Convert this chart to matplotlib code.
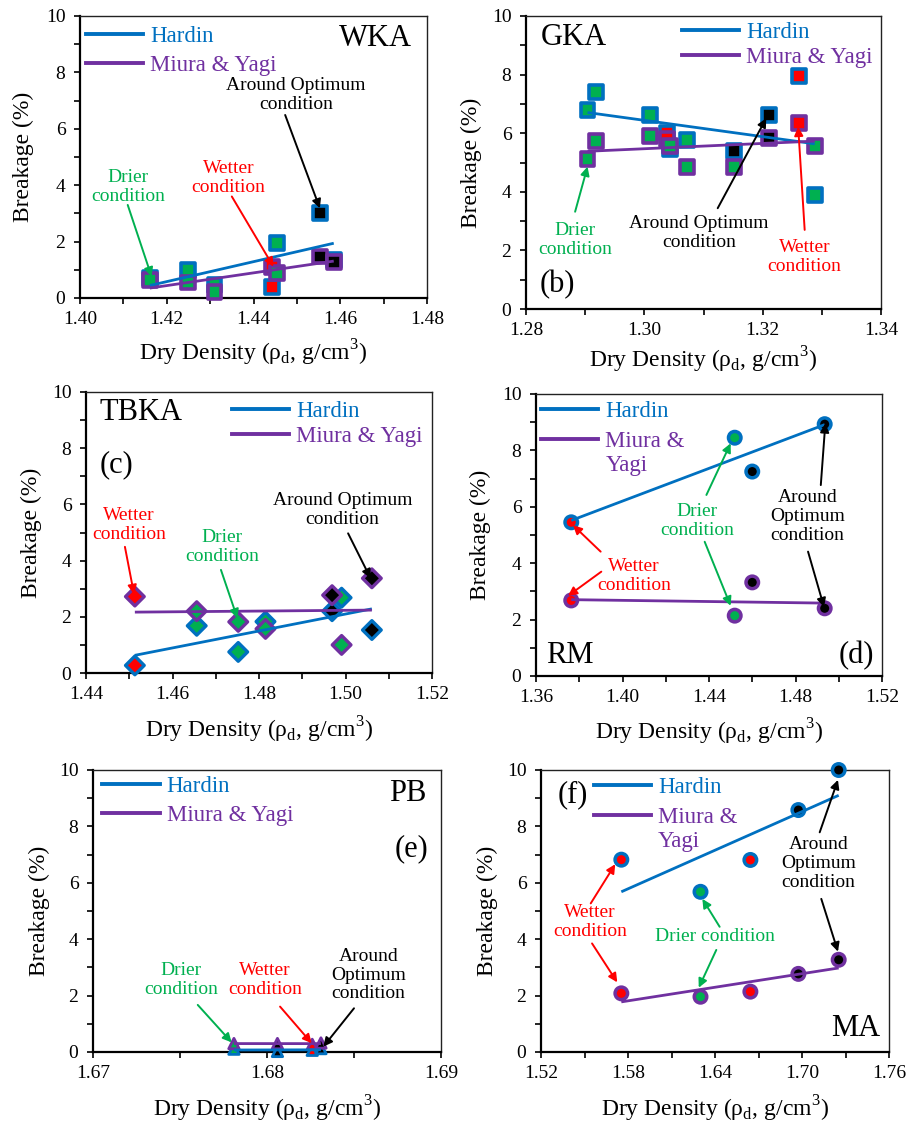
import numpy as np
import matplotlib
matplotlib.use('Agg')
import matplotlib.pyplot as plt
from matplotlib.lines import Line2D
from matplotlib.legend_handler import HandlerLine2D
from matplotlib.ticker import FormatStrFormatter

plt.rcParams['font.family'] = ['Liberation Serif', 'DejaVu Serif']
plt.rcParams['mathtext.fontset'] = 'custom'
plt.rcParams['mathtext.rm'] = 'Liberation Serif'

BLUE = '#0070C0'
PURPLE = '#7030A0'
COND_COLORS = {'D': '#00B050', 'W': '#FF0000', 'O': '#000000'}

# ---- data ----
# (a) WKA
wka_x = [1.4161, 1.4250, 1.4310, 1.4442, 1.4455, 1.4553, 1.4585]
wka_hardin = [0.70, 1.00, 0.46, 0.40, 1.95, 3.00, 1.35]
wka_miura = [0.65, 0.55, 0.21, 1.10, 0.88, 1.47, 1.28]
wka_cond_h = ['D', 'D', 'D', 'W', 'D', 'O', 'O']
wka_cond_m = ['D', 'D', 'D', 'W', 'D', 'O', 'O']

# (b) GKA
gka_x = [1.2904, 1.2919, 1.3010, 1.3038, 1.3043, 1.3072, 1.3152, 1.3210, 1.3262, 1.3288]
gka_hardin = [6.80, 7.40, 6.62, 6.00, 5.45, 5.77, 5.38, 6.62, 7.95, 3.90]
gka_miura = [5.12, 5.73, 5.90, 5.80, 5.55, 4.84, 4.85, 5.83, 6.34, 5.55]
gka_cond_h = ['D', 'D', 'D', 'W', 'D', 'D', 'O', 'O', 'W', 'D']
gka_cond_m = ['D', 'D', 'D', 'W', 'D', 'D', 'D', 'O', 'W', 'D']

# (c) TBKA
tbka_x = [1.4513, 1.4656, 1.4752, 1.4815, 1.4969, 1.4991, 1.5061]
tbka_hardin = [0.27, 1.68, 0.75, 1.83, 2.20, 2.68, 1.53]
tbka_miura = [2.72, 2.20, 1.82, 1.57, 2.77, 1.00, 3.37]
tbka_cond_h = ['W', 'D', 'D', 'D', 'O', 'D', 'O']
tbka_cond_m = ['W', 'D', 'D', 'D', 'O', 'D', 'O']

# (d) RM
rm_x = [1.3763, 1.4519, 1.4600, 1.4935]
rm_hardin = [5.45, 8.45, 7.25, 8.93]
rm_miura = [2.68, 2.14, 3.32, 2.40]
rm_cond = ['W', 'D', 'O', 'O']

# (e) PB
pb_x = [1.6781, 1.6806, 1.6826, 1.6831]
pb_hardin = [0.10, 0.02, 0.06, 0.12]
pb_miura = [0.30, 0.30, 0.27, 0.32]
pb_cond = ['D', 'O', 'W', 'O']

# (f) MA
ma_x = [1.5754, 1.6300, 1.6644, 1.6975, 1.7253]
ma_hardin = [6.82, 5.68, 6.81, 8.58, 10.00]
ma_miura = [2.08, 1.96, 2.14, 2.77, 3.27]
ma_cond = ['W', 'D', 'W', 'O', 'O']

W_PX, H_PX = 917, 1122

def px_rect(l, r, t, b):
    return [l / W_PX, 1 - b / H_PX, (r - l) / W_PX, (b - t) / H_PX]


class ShiftedLine(HandlerLine2D):
    # legend key raised so it sits next to the first line of a wrapped label
    def __init__(self, dy=0.0, **kw):
        super().__init__(**kw)
        self.dy = dy

    def create_artists(self, legend, orig_handle, xdescent, ydescent, width,
                       height, fontsize, trans):
        arts = super().create_artists(legend, orig_handle, xdescent, ydescent,
                                      width, height, fontsize, trans)
        for a in arts:
            a.set_ydata(np.asarray(a.get_ydata()) + self.dy * fontsize)
        return arts


OPT = 'Around Optimum\ncondition'
OPT3 = 'Around\nOptimum\ncondition'
WET = 'Wetter\ncondition'
DRY = 'Drier\ncondition'
G, R, K = COND_COLORS['D'], COND_COLORS['W'], COND_COLORS['O']

panels = [
    dict(rect=px_rect(80, 427, 16, 298), x=wka_x, h=wka_hardin, m=wka_miura,
         ch=wka_cond_h, cm=wka_cond_m, marker='s', ms=10, lw=2.6,
         xlim=(1.40, 1.48), xmaj=0.02, xmin=0.01,
         leg=(0.017, 0.965), legsp=0.35, miura_lab='Miura & Yagi',
         ylab_x=-0.163, xlab_y=-0.196,
         titles=[('WKA', 0.956, 0.921, 'right')],
         texts=[(OPT, K, 1.4498, 7.2), (WET, R, 1.4342, 4.24), (DRY, G, 1.4111, 3.95)],
         arrows=[(K, (1.4473, 6.49), (1.4553, 3.18)), (R, (1.435, 3.6), (1.4446, 1.11)),
                 (G, (1.411, 3.3), (1.4165, 0.76))]),
    dict(rect=px_rect(526, 881, 16, 309), x=gka_x, h=gka_hardin, m=gka_miura,
         ch=gka_cond_h, cm=gka_cond_m, marker='s', ms=10, lw=2.6,
         xlim=(1.28, 1.34), xmaj=0.02, xmin=0.01,
         leg=(0.439, 0.978), legsp=0.15, miura_lab='Miura & Yagi',
         ylab_x=-0.154, xlab_y=-0.174,
         titles=[('GKA', 0.041, 0.927, 'left'), ('(b)', 0.037, 0.082, 'left')],
         texts=[(DRY, G, 1.2883, 2.37), (OPT, K, 1.3092, 2.61), (WET, R, 1.3271, 1.77)],
         arrows=[(G, (1.2883, 3.32), (1.2904, 4.86)), (K, (1.3124, 3.44), (1.3206, 6.51)),
                 (R, (1.3271, 2.70), (1.326, 6.22))]),
    dict(rect=px_rect(86, 432, 392, 673), x=tbka_x, h=tbka_hardin, m=tbka_miura,
         ch=tbka_cond_h, cm=tbka_cond_m, marker='D', ms=9.5, lw=2.4,
         xlim=(1.44, 1.52), xmaj=0.02, xmin=0.01,
         leg=(0.421, 0.969), legsp=0.2, miura_lab='Miura & Yagi',
         ylab_x=-0.157, xlab_y=-0.203,
         titles=[('TBKA', 0.038, 0.926, 'left'), ('(c)', 0.038, 0.74, 'left')],
         texts=[(WET, R, 1.45, 5.28), (DRY, G, 1.4715, 4.47), (OPT, K, 1.4993, 5.79)],
         arrows=[(R, (1.449, 4.49), (1.4511, 2.81)), (G, (1.4712, 3.67), (1.475, 1.95)),
                 (K, (1.5006, 4.97), (1.5058, 3.37))]),
    dict(rect=px_rect(536, 882, 394, 676), x=rm_x, h=rm_hardin, m=rm_miura,
         ch=rm_cond, cm=rm_cond, marker='o', ms=9, lw=2.5,
         xlim=(1.36, 1.52), xmaj=0.04, xmin=0.02,
         leg=(0.015, 0.976), legsp=0.38, miura_lab='Miura &\nYagi',
         ylab_x=-0.16, xlab_y=-0.197,
         titles=[('RM', 0.03, 0.074, 'left'), ('(d)', 0.977, 0.074, 'right')],
         texts=[(WET, R, 1.4052, 3.55), (DRY, G, 1.4346, 5.49), (OPT3, K, 1.4855, 5.65)],
         arrows=[(R, (1.3899, 4.41), (1.3771, 5.35)), (R, (1.3902, 3.70), (1.3748, 2.84)),
                 (G, (1.4388, 6.42), (1.45, 8.25)), (G, (1.438, 4.76), (1.45, 2.49)),
                 (K, (1.4917, 6.77), (1.4938, 8.96)), (K, (1.4858, 4.41), (1.4932, 2.44))]),
    dict(rect=px_rect(93, 441, 770, 1052), x=pb_x, h=pb_hardin, m=pb_miura,
         ch=pb_cond, cm=pb_cond, marker='^', ms=7.5, lw=2.0,
         xlim=(1.67, 1.69), xmaj=0.01, xmin=0.005,
         leg=(0.027, 0.98), legsp=0.38, miura_lab='Miura & Yagi',
         ylab_x=-0.154, xlab_y=-0.2,
         titles=[('PB', 0.959, 0.917, 'right'), ('(e)', 0.964, 0.722, 'right')],
         texts=[(DRY, G, 1.67504, 2.56), (WET, R, 1.67989, 2.56), (OPT3, K, 1.68582, 2.73)],
         arrows=[(G, (1.67602, 1.67), (1.67797, 0.34)), (R, (1.68075, 1.61), (1.68257, 0.31)),
                 (K, (1.685, 1.55), (1.68324, 0.19))]),
    dict(rect=px_rect(541, 889, 770, 1052), x=ma_x, h=ma_hardin, m=ma_miura,
         ch=ma_cond, cm=ma_cond, marker='o', ms=9, lw=2.5,
         xlim=(1.52, 1.76), xmaj=0.06, xmin=0.03,
         leg=(0.152, 0.976), legsp=0.38, miura_lab='Miura &\nYagi',
         ylab_x=-0.154, xlab_y=-0.2,
         titles=[('(f)', 0.049, 0.911, 'left'), ('MA', 0.976, 0.082, 'right')],
         texts=[(WET, R, 1.5536, 4.60), ('Drier condition', G, 1.6398, 4.09), (OPT3, K, 1.7115, 6.67)],
         arrows=[(R, (1.5543, 5.27), (1.5712, 6.66)), (R, (1.5552, 3.85), (1.5726, 2.47)),
                 (G, (1.6432, 4.44), (1.6313, 5.43)), (G, (1.6409, 3.62), (1.6288, 2.28)),
                 (K, (1.7122, 7.79), (1.7248, 9.65)), (K, (1.7133, 5.43), (1.7248, 3.56))]),
]

fig = plt.figure(figsize=(W_PX / 100, H_PX / 100), dpi=100)

for p in panels:
    ax = fig.add_axes(p['rect'])
    x = np.array(p['x'])
    # markers: fill = moisture condition, edge = model
    for yv, cond, edge, z in [(p['h'], p['ch'], BLUE, 3), (p['m'], p['cm'], PURPLE, 4)]:
        ax.scatter(x, yv, s=p['ms'] ** 2, marker=p['marker'],
                   c=[COND_COLORS[c] for c in cond], edgecolors=edge,
                   linewidths=p['lw'], zorder=z, clip_on=False)
    # linear trend lines (as in the spreadsheet)
    xs = np.array([x.min(), x.max()])
    for yv, col in [(p['h'], BLUE), (p['m'], PURPLE)]:
        k, b = np.polyfit(x, yv, 1)
        ax.plot(xs, k * xs + b, color=col, lw=2.0, zorder=5, solid_capstyle='butt')

    for txt, col, tx, ty in p['texts']:
        ax.text(tx, ty, txt, color=col, fontsize=14, ha='center', va='center',
                linespacing=1.15, zorder=6)
    for col, tail, tip in p['arrows']:
        ax.annotate('', xy=tip, xytext=tail,
                    arrowprops=dict(arrowstyle='-|>', color=col, lw=1.4,
                                    mutation_scale=13, shrinkA=0, shrinkB=0),
                    zorder=6)
    for txt, tx, ty, ha in p['titles']:
        ax.text(tx, ty, txt, transform=ax.transAxes, fontsize=22, ha=ha, va='center')

    h_blue = Line2D([], [], color=BLUE, lw=2.8)
    h_purple = Line2D([], [], color=PURPLE, lw=2.8)
    wrapped = '\n' in p['miura_lab']
    ax.legend([h_blue, h_purple], ['Hardin', p['miura_lab']], loc='upper left',
              bbox_to_anchor=p['leg'], frameon=False, fontsize=16.5,
              handlelength=2.5, handletextpad=0.3, labelspacing=p['legsp'],
              borderpad=0, borderaxespad=0, labelcolor=[BLUE, PURPLE],
              handler_map={h_purple: ShiftedLine(dy=0.6 if wrapped else 0.0)})

    lo, hi = p['xlim']
    ax.set_xlim(lo, hi)
    ax.set_ylim(0, 10)
    ax.set_xticks(np.round(np.arange(lo, hi + p['xmaj'] / 2, p['xmaj']), 4))
    ax.set_xticks(np.round(np.arange(lo, hi + p['xmin'] / 2, p['xmin']), 4), minor=True)
    ax.set_yticks(np.arange(0, 11, 2))
    ax.set_yticks(np.arange(0, 11, 1), minor=True)
    ax.xaxis.set_major_formatter(FormatStrFormatter('%.2f'))
    ax.yaxis.set_major_formatter(FormatStrFormatter('%d'))
    ax.tick_params(which='both', direction='out', length=4.5, width=1.2, labelsize=14)
    ax.tick_params(axis='x', pad=5)
    ax.tick_params(axis='y', pad=6)
    for s in ['left', 'bottom']:
        ax.spines[s].set_linewidth(1.6)
    for s in ['top', 'right']:
        ax.spines[s].set_linewidth(1.0)
        ax.spines[s].set_color('#222222')

    ax.set_xlabel(r'Dry Density (ρ$_\mathregular{d}$, g/cm$^\mathregular{3}$)', fontsize=17, va='center')
    ax.set_ylabel('Breakage (%)', fontsize=17, va='center')
    ax.xaxis.set_label_coords(0.5, p['xlab_y'])
    ax.yaxis.set_label_coords(p['ylab_x'], 0.5)

fig.savefig('out.png', dpi=100)
